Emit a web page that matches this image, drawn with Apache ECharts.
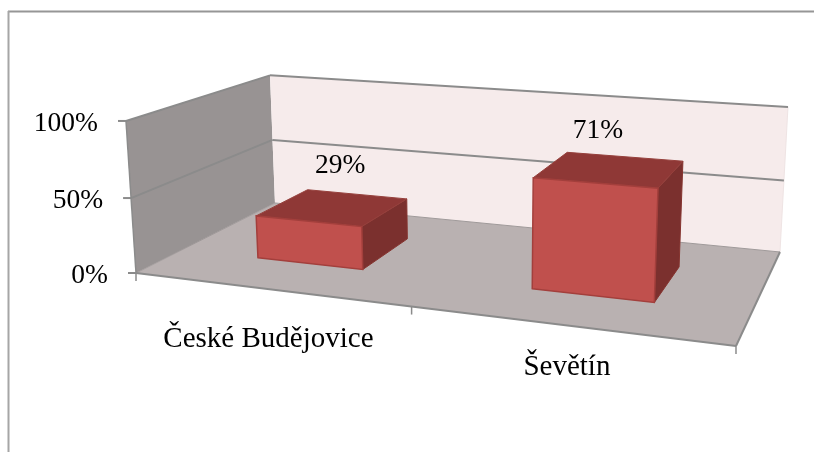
<!DOCTYPE html>
<html><head><meta charset="utf-8">
<style>html,body{margin:0;padding:0;background:#fff}#c{width:814px;height:452px}</style>
<script src="https://cdn.jsdelivr.net/npm/echarts@6/dist/echarts.min.js"></script>
</head><body><div id="c"></div>
<script>
const categories = ['České Budějovice', 'Ševětín'];
const values = [29, 71];
const valueTicks = [0, 50, 100];
const tickLabels = ['0%', '50%', '100%'];

// Oblique 3D view of the chart box: (u along the categories, d into the depth, v up), each 0..1
function project(u, d, v) {
  const w = -0.1504 * u + 0.2012 * d - 0.0278 * v + 1;
  return [
    (489.3 * u + 194.3 * d - 13.5 * v + 136) / w,
    (21 * u - 29.2 * d - 155.4 * v + 273) / w
  ];
}
const FONT = '27.5px "Liberation Serif", serif';
const FONT_CAT = '29px "Liberation Serif", serif';
const GRID_LINE = '#8b8b8b';
const barFront = [0.3, 0.7];      // depth range of the boxes
const barShare = 0.4;             // width of a box within its category
const labelNudge = [[7, -41], [-12, -38]];
const categoryNudge = [50, 42];

function norm(api, params, cat, val) {
  const c = api.coord([cat, val]);
  const r = params.coordSys;
  return [(c[0] - r.x) / r.width, (r.y + r.height - c[1]) / r.height];
}
function poly(pts, fill, stroke, lw) {
  return { type: 'polygon', shape: { points: pts }, style: { fill, stroke: stroke || null, lineWidth: lw || 0 } };
}
function seg(a, b, w, color) {
  return { type: 'line', shape: { x1: a[0], y1: a[1], x2: b[0], y2: b[1] }, style: { stroke: color || GRID_LINE, lineWidth: w || 2 } };
}
function txt(s, x, y, align, font) {
  return { type: 'text', style: { text: s, x, y, align, verticalAlign: 'middle', font: font || FONT, fill: '#000' } };
}

const option = {
  animation: false,
  backgroundColor: '#fff',
  grid: { left: 136, top: 121, width: 600, height: 152 },
  xAxis: { type: 'category', data: categories, show: false },
  yAxis: { type: 'value', min: 0, max: 100, interval: 50, show: false },
  graphic: [
    { type: 'line', shape: { x1: 8, y1: 11.5, x2: 814, y2: 11.5 }, style: { stroke: '#969696', lineWidth: 2 } },
    { type: 'line', shape: { x1: 8.5, y1: 11, x2: 8.5, y2: 452 }, style: { stroke: '#a6a6a6', lineWidth: 2 } }
  ],
  series: [
    { // walls and floor
      type: 'custom', coordinateSystem: 'cartesian2d', silent: true, clip: false, z: 1,
      data: [[0, 0]],
      renderItem() {
        return { type: 'group', children: [
          poly([project(0,0,0), project(0,1,0), project(0,1,1), project(0,0,1)], '#989393'),
          poly([project(0,1,0), project(1,1,0), project(1,1,1), project(0,1,1)], '#f6ebeb'),
          poly([project(0,0,0), project(1,0,0), project(1,1,0), project(0,1,0)], '#b9b1b1'),
          seg(project(0,0,0), project(0,0,1), 1.5),
          seg(project(1,1,0), project(1,1,1), 1, '#efe4e4')
        ] };
      }
    },
    { // value gridlines, ticks, tick labels
      type: 'custom', coordinateSystem: 'cartesian2d', silent: true, clip: false, z: 2,
      data: valueTicks.map(t => [0, t]),
      renderItem(params, api) {
        const v = norm(api, params, 0, api.value(1))[1];
        const f = project(0, 0, v), b = project(0, 1, v), r = project(1, 1, v);
        const floor = v === 0;
        return { type: 'group', children: [
          seg(f, b, floor ? 1 : 2, floor ? '#a09a9a' : GRID_LINE),
          seg(b, r, floor ? 1 : 2, floor ? '#a09a9a' : GRID_LINE),
          seg([f[0] - 8, f[1]], f),
          txt(tickLabels[params.dataIndex], f[0] - 28, f[1] + 3, 'right')
        ] };
      }
    },
    { // floor front and side edges, category ticks
      type: 'custom', coordinateSystem: 'cartesian2d', silent: true, clip: false, z: 2,
      data: [0, 1, 2].map(i => [i]),
      renderItem(params) {
        const i = params.dataIndex;
        const p = project(i / 2, 0, 0);
        const kids = [seg(p, [p[0], p[1] + 8], 1.5)];
        if (i === 2) {
          kids.push(seg(project(0,0,0), project(1,0,0)), seg(project(1,0,0), project(1,1,0)));
        }
        return { type: 'group', children: kids };
      }
    },
    { // boxes
      type: 'custom', coordinateSystem: 'cartesian2d', silent: true, clip: false, z: 3,
      data: values.map((val, i) => [i, val]),
      renderItem(params, api) {
        const i = api.value(0);
        const n = norm(api, params, i, api.value(1));
        const half = api.size([1, 0])[0] / params.coordSys.width * barShare / 2;
        const u0 = n[0] - half, u1 = n[0] + half, v = n[1];
        const d0 = barFront[0], d1 = barFront[1];
        const top = project(n[0], 0.5, v);
        const nudge = labelNudge[i];
        return { type: 'group', children: [
          poly([project(u1,d0,0), project(u1,d1,0), project(u1,d1,v), project(u1,d0,v)], '#7b302e', '#86342f', 1),
          poly([project(u0,d0,v), project(u1,d0,v), project(u1,d1,v), project(u0,d1,v)], '#8f3836', '#96403c', 1),
          poly([project(u0,d0,0), project(u1,d0,0), project(u1,d0,v), project(u0,d0,v)], '#c0504d', '#a33f3c', 1.5),
          txt(api.value(1) + '%', top[0] + nudge[0], top[1] + nudge[1], 'center')
        ] };
      }
    },
    { // category labels
      type: 'custom', coordinateSystem: 'cartesian2d', silent: true, clip: false, z: 4,
      data: categories.map((c, i) => [i, 0]),
      renderItem(params, api) {
        const n = norm(api, params, api.value(0), 0);
        const p = project(n[0], 0, 0);
        return txt(categories[params.dataIndex], p[0], p[1] + categoryNudge[params.dataIndex], 'center', FONT_CAT);
      }
    }
  ]
};
echarts.init(document.getElementById('c'), null, { renderer: 'canvas' }).setOption(option);
</script></body></html>
